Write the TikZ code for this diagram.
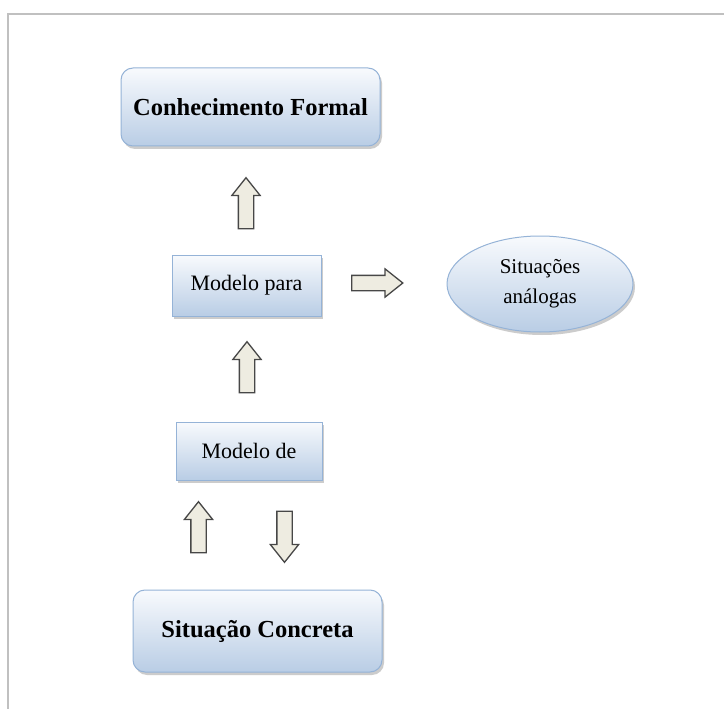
\documentclass[tikz,border=0pt]{standalone}
\usepackage{fontspec}
\setmainfont{Liberation Serif}
\usetikzlibrary{shapes.geometric,shapes.arrows,shadows}
\definecolor{boxline}{HTML}{95B3D7}
\definecolor{boxtop}{HTML}{F8FAFD}
\definecolor{boxbot}{HTML}{B9CDE5}
\definecolor{arrfill}{HTML}{EEECE1}
\definecolor{arrline}{HTML}{474747}
\definecolor{frameline}{HTML}{C0C0C0}
\tikzset{
  box/.style={draw=boxline,line width=1pt,top color=boxtop,bottom color=boxbot,drop shadow={shadow xshift=2pt,shadow yshift=-3pt,opacity=0.4},align=center,inner sep=0pt},
  bigbox/.style={box,rounded corners=12pt,font=\fontsize{24.5}{28}\selectfont\bfseries},
  smallbox/.style={box,font=\fontsize{22}{26}\selectfont},
  blockarrow/.style={single arrow,draw=arrline,fill=arrfill,line width=1.3pt,minimum height=51pt,inner sep=0pt,inner ysep=7pt,single arrow head extend=6.5pt,single arrow tip angle=77}
}
\begin{document}
\begin{tikzpicture}[x=1pt,y=-1pt]
\useasboundingbox (0,0) rectangle (724,709);
\fill[white] (0,0) rectangle (724,709);
\draw[frameline,line width=2pt] (724,14)--(8,14)--(8,709);
% caixas
\node[bigbox,minimum width=259,minimum height=78] (conhec) at (250.5,107){Conhecimento Formal};
\node[smallbox,minimum width=149,minimum height=61] (modpara) at (246.5,285.5){Modelo para};
\node[smallbox,minimum width=146,minimum height=58] (modde) at (249,451){Modelo de};
\node[bigbox,minimum width=249,minimum height=82] (sitconc) at (257.5,631){Situação Concreta};
\node[box,ellipse,minimum width=186,minimum height=96,font=\fontsize{21}{30}\selectfont] (analog) at (540,284){Situações\\análogas};
% setas
\node[blockarrow,rotate=90] (a1) at (246,208){};
\node[blockarrow,rotate=90] (a2) at (247,372){};
\node[blockarrow] (a3) at (372.5,283){};
\node[blockarrow,rotate=90] (a4) at (198.5,532){};
\node[blockarrow,rotate=-90] (a5) at (284.5,532){};
\end{tikzpicture}
\end{document}
